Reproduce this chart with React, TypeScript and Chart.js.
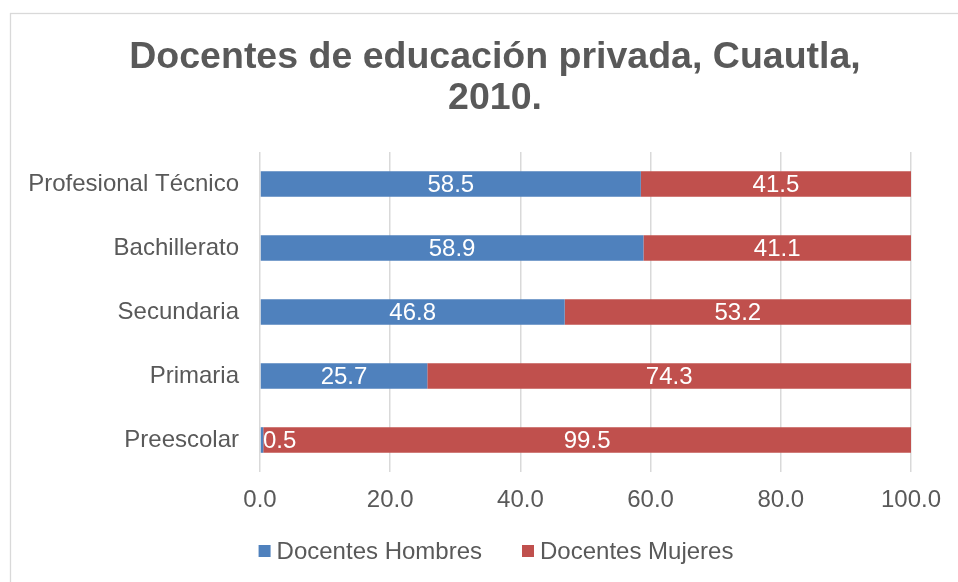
import React, { useEffect, useRef } from "react";
import { Chart, registerables } from "chart.js";

Chart.register(...registerables);

const categories = ["Profesional Técnico", "Bachillerato", "Secundaria", "Primaria", "Preescolar"];
const hombres = [58.5, 58.9, 46.8, 25.7, 0.5];
const mujeres = [41.5, 41.1, 53.2, 74.3, 99.5];
const seriesNames = ["Docentes Hombres", "Docentes Mujeres"];
const titleLines = ["Docentes de educación privada, Cuautla,", "2010."];

const BLUE = "#4F81BD";
const RED = "#C0504D";
const TEXT = "#595959";
const FONT = '"Liberation Sans", Arial, sans-serif';
const FS = 24;

const decorPlugin = {
  id: "decor",
  beforeDraw(chart: any) {
    const ctx = chart.ctx;
    ctx.save();
    ctx.fillStyle = "#ffffff";
    ctx.fillRect(0, 0, chart.width, chart.height);
    ctx.strokeStyle = "#D9D9D9";
    ctx.lineWidth = 1.3;
    ctx.strokeRect(10.5, 13.5, 1200, 1200);
    ctx.restore();
  },
  afterDraw(chart: any) {
    const ctx = chart.ctx;
    ctx.save();
    // title
    ctx.fillStyle = TEXT;
    ctx.font = `bold 37.5px ${FONT}`;
    ctx.textAlign = "center";
    ctx.textBaseline = "alphabetic";
    ctx.fillText(titleLines[0], 495, 68);
    ctx.fillText(titleLines[1], 495, 109);

    // data labels
    ctx.font = `${FS}px ${FONT}`;
    ctx.fillStyle = "#ffffff";
    ctx.textBaseline = "middle";
    const area = chart.chartArea;
    chart.data.datasets.forEach((ds: any, di: number) => {
      const meta = chart.getDatasetMeta(di);
      meta.data.forEach((bar: any, i: number) => {
        const v = ds.data[i];
        const label = v.toFixed(1);
        const w = ctx.measureText(label).width;
        const cx = (bar.x + bar.base) / 2;
        if (cx - w / 2 < area.left + 3) {
          ctx.textAlign = "left";
          ctx.fillText(label, area.left + 3, bar.y + 1.5);
        } else {
          ctx.textAlign = "center";
          ctx.fillText(label, cx, bar.y + 1.5);
        }
      });
    });

    // legend
    ctx.font = `${FS}px ${FONT}`;
    const colors = [BLUE, RED];
    const sq = 12, gapT = 6, gapItems = 40;
    const widths = seriesNames.map((n) => ctx.measureText(n).width);
    const total = widths.reduce((a, w) => a + sq + gapT + w, 0) + gapItems;
    let x = 496 - total / 2;
    const cy = 551;
    ctx.textAlign = "left";
    ctx.textBaseline = "middle";
    seriesNames.forEach((n, i) => {
      ctx.fillStyle = colors[i];
      ctx.fillRect(x, cy - 6, sq, sq);
      x += sq + gapT;
      ctx.fillStyle = TEXT;
      ctx.fillText(n, x, cy + 1);
      x += widths[i] + gapItems;
    });
    ctx.restore();
  },
};

export default function App() {
  const ref = useRef<HTMLCanvasElement | null>(null);
  useEffect(() => {
    if (!ref.current) return;
    const chart = new Chart(ref.current, {
      type: "bar",
      data: {
        labels: categories,
        datasets: [
          { label: seriesNames[0], data: hombres, backgroundColor: BLUE, barPercentage: 0.4, categoryPercentage: 1 },
          { label: seriesNames[1], data: mujeres, backgroundColor: RED, barPercentage: 0.4, categoryPercentage: 1 },
        ],
      },
      options: {
        indexAxis: "y",
        responsive: false,
        animation: false,
        devicePixelRatio: 1,
        layout: { padding: { top: 152, right: 47, left: 0, bottom: 0 } },
        plugins: { legend: { display: false }, title: { display: false }, tooltip: { enabled: false } },
        scales: {
          x: {
            stacked: true,
            min: 0,
            max: 100,
            ticks: {
              stepSize: 20,
              color: TEXT,
              font: { family: FONT, size: FS },
              padding: 14,
              callback: (v: any) => Number(v).toFixed(1),
            },
            grid: { color: "#D9D9D9", lineWidth: 1.5, drawTicks: false },
            border: { display: false },
            afterFit: (s: any) => { s.height = 110; },
          },
          y: {
            stacked: true,
            ticks: { color: TEXT, font: { family: FONT, size: FS }, padding: 21 },
            grid: { display: false, drawTicks: false },
            border: { display: false },
            afterFit: (s: any) => { s.width = 260; },
          },
        },
      },
      plugins: [decorPlugin],
    } as any);
    return () => chart.destroy();
  }, []);
  return (
    <div style={{ position: "fixed", left: 0, top: 0, width: 958, height: 582, overflow: "hidden", background: "#fff" }}>
      <canvas ref={ref} width={958} height={582} style={{ display: "block", width: 958, height: 582 }} />
    </div>
  );
}
